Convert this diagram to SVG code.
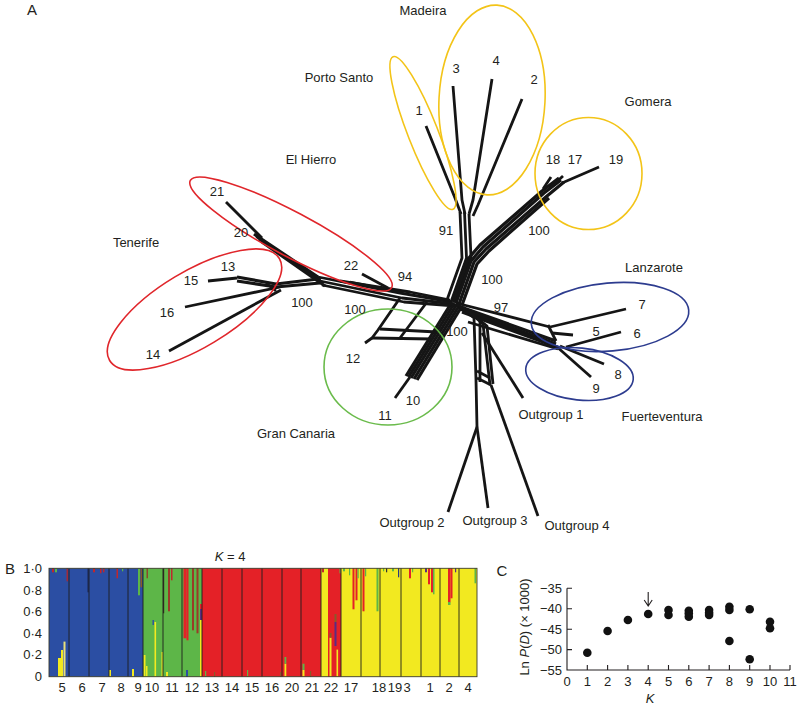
<svg xmlns="http://www.w3.org/2000/svg" width="798" height="708" viewBox="0 0 798 708">
<style>
text{font-family:"Liberation Sans",Arial,Helvetica,sans-serif;fill:#231f20;font-size:13px}
.m{text-anchor:middle}
.e{text-anchor:end}
.big{font-size:15px}
.ln{fill:none;stroke:#151515;stroke-width:2.8;stroke-linejoin:round}
.thk{fill:none;stroke:#151515;stroke-width:3.2;stroke-linejoin:round}
.ell{fill:none;stroke-width:1.6}
.yl{stroke:#f3c418}
.rd{stroke:#e0262b}
.gr{stroke:#6abb4b}
.bl{stroke:#2d3c8f}
.ax{fill:none;stroke:#231f20;stroke-width:1.1}
.dot{fill:#111}
</style>

<!-- Panel A -->
<text x="32" y="15" class="m big">A</text>

<g id="connectors">
  <!-- Madeira branches -->
  <path class="ln" d="M426,126 L455,198 L461,214"/>
  <path class="ln" d="M453,86 L462,200 L465,214"/>
  <path class="ln" d="M492,79 L473,200 L469,214"/>
  <path class="ln" d="M522,99 L478,205 L473,216"/>
  <!-- Madeira trunk -->
  <path class="ln" d="M460,212 L462,258 L447,300"/>
  <path class="ln" d="M464.5,212 L466.5,258 L451,302"/>
  <path class="ln" d="M469,214 L471,257 L455,303"/>
  <!-- Gomera bundle -->
  <path class="thk" d="M453,302 L468,259 L480,245 L542,191 L559,178"/>
  <path class="thk" d="M456,303 L471,261 L483,247 L544,193 L561,180"/>
  <path class="thk" d="M459,304 L474,262 L486,249 L547,196 L564,182"/>
  <path class="thk" d="M462,305 L477,264 L489,251 L549,198"/>
  <path class="ln" d="M551,177 L543,189"/>
  <path class="ln" d="M563,176 L550,188"/>
  <path class="ln" d="M599,167 L562,183"/>
  <!-- left bundle to El Hierro / Tenerife -->
  <path class="ln" d="M452,302 L400,293 L318,277"/>
  <path class="ln" d="M454,304 L402,298 L320,281"/>
  <path class="ln" d="M456,306 L404,302 L322,285"/>
  <path class="ln" d="M450,300 L410,292 L340,281"/>
  <!-- El Hierro bundle -->
  <path class="thk" d="M318,277 L254,234"/>
  <path class="thk" d="M320.5,280 L256.5,236.5"/>
  <path class="thk" d="M323,283 L259,239"/>
  <path class="thk" d="M325,286 L262,242"/>
  <path class="ln" d="M226,202 L262,238"/>
  <path class="ln" d="M362,274 L388,288"/>
  <path class="ln" d="M350,282 L400,292"/>
  <!-- Tenerife -->
  <path class="ln" d="M208,281 L237,278"/>
  <path class="thk" d="M237,277 L276,284 L318,279"/>
  <path class="thk" d="M237,281 L276,287 L320,283"/>
  <path class="ln" d="M185,307 L280,287"/>
  <path class="ln" d="M169,351 L281,290"/>
  <path class="ln" d="M266,283 L276,291"/>
  <!-- Gran Canaria -->
  <path class="thk" d="M452,302 L406,376"/>
  <path class="thk" d="M454.5,303 L408.5,377"/>
  <path class="thk" d="M457,304 L411,378"/>
  <path class="thk" d="M459.5,305 L414,379"/>
  <path class="thk" d="M462,306 L417,380"/>
  <path class="ln" d="M395,398 L410,377"/>
  <path class="ln" d="M400,298 L378,330 L372,338 L365,343"/>
  <path class="ln" d="M427,302 L400,338"/>
  <path class="ln" d="M380,329 L437,332"/>
  <path class="ln" d="M372,338 L432,339"/>
  <!-- Lanzarote / Fuerteventura -->
  <path class="ln" d="M456,303 L550,327"/>
  <path class="thk" d="M458,306 L556,341"/>
  <path class="thk" d="M460,309 L556,344"/>
  <path class="thk" d="M462,312 L557,347"/>
  <path class="ln" d="M468,322 L558,349"/>
  <path class="ln" d="M550,327 L626,309"/>
  <path class="ln" d="M552,333 L573,335"/>
  <path class="ln" d="M548,325 L556,341"/>
  <path class="ln" d="M566,347 L621,332"/>
  <path class="ln" d="M560,346 L604,364"/>
  <path class="ln" d="M556,346 L591,377"/>
  <!-- Outgroups -->
  <path class="ln" d="M456,304 L474,318 L476,380 L477,427"/>
  <path class="ln" d="M459,306 L480,320 L480,382"/>
  <path class="ln" d="M463,307 L483,324 L490,385"/>
  <path class="ln" d="M466,309 L487,326 L493,384"/>
  <path class="ln" d="M477,378 L491,385"/>
  <path class="ln" d="M477,371 L490,378"/>
  <path class="ln" d="M482,333 L523,398"/>
  <path class="ln" d="M491,385 L538,516"/>
  <path class="ln" d="M477,427 L448,512"/>
  <path class="ln" d="M477,427 L488,508"/>
</g>

<g id="ellipses">
  <ellipse class="ell yl" cx="423" cy="133" rx="82" ry="15" transform="rotate(68.6 423 133)"/>
  <ellipse class="ell yl" cx="492" cy="100" rx="53" ry="95" transform="rotate(3 492 100)"/>
  <ellipse class="ell yl" cx="588.5" cy="173.5" rx="53.5" ry="56"/>
  <ellipse class="ell rd" cx="291" cy="234" rx="114" ry="22" transform="rotate(28 291 234)"/>
  <ellipse class="ell rd" cx="194.5" cy="309.5" rx="99" ry="38" transform="rotate(-31 194.5 309.5)"/>
  <ellipse class="ell gr" cx="388" cy="367" rx="64" ry="58"/>
  <ellipse class="ell bl" cx="610" cy="317" rx="79" ry="34" transform="rotate(-5 610 317)"/>
  <ellipse class="ell bl" cx="579.5" cy="374" rx="54" ry="26" transform="rotate(6 579.5 374)"/>
</g>

<g id="region-labels">
  <text x="423" y="15" class="m">Madeira</text>
  <text x="339" y="82" class="m">Porto Santo</text>
  <text x="648" y="106" class="m">Gomera</text>
  <text x="311" y="164" class="m">El Hierro</text>
  <text x="136" y="247" class="m">Tenerife</text>
  <text x="654" y="272" class="m">Lanzarote</text>
  <text x="662" y="421" class="m">Fuerteventura</text>
  <text x="296" y="438" class="m">Gran Canaria</text>
  <text x="551" y="419" class="m">Outgroup 1</text>
  <text x="412" y="527" class="m">Outgroup 2</text>
  <text x="495" y="525" class="m">Outgroup 3</text>
  <text x="577" y="530" class="m">Outgroup 4</text>
</g>

<g id="leaf-labels">
  <text x="419" y="115" class="m">1</text>
  <text x="456" y="73" class="m">3</text>
  <text x="496" y="65" class="m">4</text>
  <text x="534" y="84" class="m">2</text>
  <text x="553" y="164" class="m">18</text>
  <text x="575" y="164" class="m">17</text>
  <text x="616" y="164" class="m">19</text>
  <text x="217" y="196" class="m">21</text>
  <text x="241" y="237" class="m">20</text>
  <text x="351" y="270" class="m">22</text>
  <text x="228" y="271" class="m">13</text>
  <text x="191" y="285" class="m">15</text>
  <text x="167" y="317" class="m">16</text>
  <text x="153" y="359" class="m">14</text>
  <text x="642" y="309" class="m">7</text>
  <text x="596" y="336" class="m">5</text>
  <text x="637" y="338" class="m">6</text>
  <text x="618" y="379" class="m">8</text>
  <text x="596" y="393" class="m">9</text>
  <text x="353" y="363" class="m">12</text>
  <text x="413" y="405" class="m">10</text>
  <text x="385" y="420" class="m">11</text>
</g>

<g id="support-values">
  <text x="446" y="235" class="m">91</text>
  <text x="539" y="235" class="m">100</text>
  <text x="405" y="281" class="m">94</text>
  <text x="492" y="284" class="m">100</text>
  <text x="302" y="307" class="m">100</text>
  <text x="355" y="314" class="m">100</text>
  <text x="501" y="312" class="m">97</text>
  <text x="457" y="336" class="m">100</text>
</g>

<!-- Panel B -->
<g id="panel-B">
  <text x="10" y="574" class="m big">B</text>
  <text x="230" y="561" class="m"><tspan font-style="italic">K</tspan> = 4</text>
  <g class="ylab">
    <text x="42" y="573" class="e">1·0</text>
    <text x="42" y="595" class="e">0·8</text>
    <text x="42" y="616" class="e">0·6</text>
    <text x="42" y="638" class="e">0·4</text>
    <text x="42" y="659" class="e">0·2</text>
    <text x="42" y="681" class="e">0</text>
  </g>
  <!-- base colours -->
  <rect x="49" y="568.3" width="94" height="108.4" fill="#2b4ea3"/>
  <rect x="143" y="568.3" width="59" height="108.4" fill="#5db648"/>
  <rect x="202" y="568.3" width="119" height="108.4" fill="#e42127"/>
  <rect x="321" y="568.3" width="7" height="108.4" fill="#f2e920"/>
  <rect x="328" y="568.3" width="13" height="108.4" fill="#e42127"/>
  <rect x="341" y="568.3" width="136" height="108.4" fill="#f2e920"/>
  <!-- admixture spikes -->
  <g id="spikes">
    <rect x="52" y="568.3" width="2" height="4" fill="#c0272d"/>
    <rect x="55" y="568.3" width="2" height="4" fill="#5db648"/>
    <rect x="66.5" y="568.3" width="1.6" height="13" fill="#a02a3a"/>
    <rect x="58" y="658" width="3" height="18.7" fill="#f2e920"/>
    <rect x="61" y="650" width="2" height="26.7" fill="#f2e920"/>
    <rect x="63.5" y="641.6" width="2" height="35" fill="#e9e07a"/>
    <rect x="87.5" y="568.3" width="1.2" height="24" fill="#1b2450"/>
    <rect x="93" y="568.3" width="2" height="4" fill="#c0272d"/>
    <rect x="100" y="568.3" width="1.5" height="5" fill="#c0272d"/>
    <rect x="103" y="568.3" width="1.5" height="4" fill="#c0272d"/>
    <rect x="116.5" y="568.3" width="1.5" height="10" fill="#c0272d"/>
    <rect x="109" y="670" width="2" height="6.7" fill="#f2e920"/>
    <rect x="122" y="568.3" width="1.2" height="3" fill="#5db648"/>
    <rect x="132" y="669" width="2" height="7.7" fill="#f2e920"/>
    <rect x="138" y="568.3" width="2" height="27" fill="#5db648"/>
    <rect x="140.5" y="568.3" width="1.6" height="19" fill="#8a5a2a"/>
    <rect x="146.5" y="568.3" width="1.5" height="10" fill="#8a4a2a"/>
    <rect x="143.5" y="655" width="2" height="21.7" fill="#f2e920"/>
    <rect x="146" y="666" width="1.5" height="10.7" fill="#f2e920"/>
    <rect x="154.5" y="622" width="1.6" height="54.7" fill="#f2e920"/>
    <rect x="152.5" y="620" width="1.4" height="5" fill="#2b4ea3"/>
    <rect x="163" y="568.3" width="1.2" height="45" fill="#3a3020"/>
    <rect x="161.5" y="652" width="1.5" height="24.7" fill="#f2e920"/>
    <rect x="168" y="568.3" width="2" height="43" fill="#9a3b28"/>
    <rect x="171" y="568.3" width="1.5" height="12" fill="#c0272d"/>
    <rect x="166" y="672" width="2" height="4.7" fill="#f2e920"/>
    <rect x="183.5" y="568.3" width="3" height="70" fill="#e42127"/>
    <rect x="186.5" y="568.3" width="2" height="72" fill="#e42127"/>
    <rect x="192" y="568.3" width="2" height="62" fill="#9a3b28"/>
    <rect x="196.5" y="568.3" width="2" height="65" fill="#9a3b28"/>
    <rect x="200" y="620" width="2" height="56.7" fill="#f2e920"/>
    <rect x="200" y="609" width="2" height="11" fill="#5a2d82"/>
    <rect x="200" y="604" width="2" height="5" fill="#e42127"/>
    <rect x="186" y="670" width="2" height="6.7" fill="#2b4ea3"/>
    <rect x="205" y="671" width="1.2" height="5.7" fill="#5db648"/>
    <rect x="214" y="672" width="1.2" height="4.7" fill="#8a5a2a"/>
    <rect x="247" y="670" width="1.2" height="6.7" fill="#5db648"/>
    <rect x="280" y="672" width="1.2" height="4.7" fill="#8a5a2a"/>
    <rect x="284.5" y="663.7" width="1.8" height="13" fill="#f2e920"/>
    <rect x="284.5" y="657" width="1.8" height="6.7" fill="#5db648"/>
    <rect x="302.5" y="670" width="2" height="6.7" fill="#f2e920"/>
    <rect x="302.5" y="663.7" width="2" height="6.3" fill="#5db648"/>
    <rect x="310" y="671" width="1.2" height="5.7" fill="#8a5a2a"/>
    <rect x="322" y="568.3" width="2" height="4" fill="#c0272d"/>
    <rect x="329.5" y="637.7" width="2" height="39" fill="#f2e920"/>
    <rect x="329.5" y="633" width="2" height="4.7" fill="#8a5a2a"/>
    <rect x="334.5" y="622" width="2" height="24" fill="#5a2d82"/>
    <rect x="334.5" y="614" width="2" height="8" fill="#8a5a2a"/>
    <rect x="336.5" y="649.6" width="1.6" height="27" fill="#f2e920"/>
    <rect x="339.5" y="568.3" width="1.2" height="5" fill="#5db648"/>
    <rect x="343" y="568.3" width="2" height="3" fill="#5db648"/>
    <rect x="349" y="568.3" width="1.2" height="7" fill="#5db648"/>
    <rect x="352.5" y="568.3" width="2" height="41" fill="#e42127"/>
    <rect x="355.5" y="568.3" width="2" height="32" fill="#e42127"/>
    <rect x="357.5" y="568.3" width="1.2" height="10" fill="#5db648"/>
    <rect x="362.5" y="568.3" width="2" height="43" fill="#e42127"/>
    <rect x="365" y="568.3" width="1.2" height="8" fill="#5db648"/>
    <rect x="376.5" y="568.3" width="2" height="43" fill="#5db648"/>
    <rect x="383" y="568.3" width="1.2" height="3" fill="#5db648"/>
    <rect x="386" y="568.3" width="1.2" height="4" fill="#333"/>
    <rect x="392" y="568.3" width="2" height="3" fill="#5db648"/>
    <rect x="398" y="568.3" width="1.2" height="9" fill="#2b3a80"/>
    <rect x="409" y="568.3" width="2" height="10" fill="#e42127"/>
    <rect x="412" y="568.3" width="1.2" height="4" fill="#5db648"/>
    <rect x="425" y="568.3" width="2" height="4" fill="#5a2d82"/>
    <rect x="428" y="568.3" width="2" height="16" fill="#e42127"/>
    <rect x="431" y="568.3" width="2" height="24" fill="#e42127"/>
    <rect x="433" y="568.3" width="1.5" height="26" fill="#5db648"/>
    <rect x="448" y="568.3" width="2.5" height="34" fill="#e42127"/>
    <rect x="450.5" y="568.3" width="2" height="30" fill="#e42127"/>
    <rect x="448" y="602" width="2.5" height="3" fill="#5db648"/>
    <rect x="455" y="568.3" width="1.2" height="4" fill="#5a2d82"/>
    <rect x="474.5" y="568.3" width="1.6" height="15" fill="#5db648"/>
  </g>
  <!-- population separators -->
  <g stroke="#1e1e1e" stroke-width="0.9">
    <line x1="69" y1="568.3" x2="69" y2="676.7"/>
    <line x1="89" y1="568.3" x2="89" y2="676.7"/>
    <line x1="109" y1="568.3" x2="109" y2="676.7"/>
    <line x1="128" y1="568.3" x2="128" y2="676.7"/>
    <line x1="143" y1="568.3" x2="143" y2="676.7"/>
    <line x1="163" y1="568.3" x2="163" y2="676.7"/>
    <line x1="182" y1="568.3" x2="182" y2="676.7"/>
    <line x1="202" y1="568.3" x2="202" y2="676.7"/>
    <line x1="222" y1="568.3" x2="222" y2="676.7"/>
    <line x1="242" y1="568.3" x2="242" y2="676.7"/>
    <line x1="262" y1="568.3" x2="262" y2="676.7"/>
    <line x1="282" y1="568.3" x2="282" y2="676.7"/>
    <line x1="301" y1="568.3" x2="301" y2="676.7"/>
    <line x1="321" y1="568.3" x2="321" y2="676.7"/>
    <line x1="341" y1="568.3" x2="341" y2="676.7"/>
    <line x1="361" y1="568.3" x2="361" y2="676.7"/>
    <line x1="380" y1="568.3" x2="380" y2="676.7"/>
    <line x1="401" y1="568.3" x2="401" y2="676.7"/>
    <line x1="421" y1="568.3" x2="421" y2="676.7"/>
    <line x1="440" y1="568.3" x2="440" y2="676.7"/>
    <line x1="459" y1="568.3" x2="459" y2="676.7"/>
  </g>
  <rect x="49" y="568.3" width="428" height="108.4" fill="none" stroke="#3a3a2a" stroke-width="0.9"/>
  <g>
    <text x="62" y="692" class="m">5</text>
    <text x="82" y="692" class="m">6</text>
    <text x="102" y="692" class="m">7</text>
    <text x="121" y="692" class="m">8</text>
    <text x="138" y="692" class="m">9</text>
    <text x="152" y="692" class="m">10</text>
    <text x="172" y="692" class="m">11</text>
    <text x="192" y="692" class="m">12</text>
    <text x="212" y="692" class="m">13</text>
    <text x="232" y="692" class="m">14</text>
    <text x="252" y="692" class="m">15</text>
    <text x="272" y="692" class="m">16</text>
    <text x="292" y="692" class="m">20</text>
    <text x="312" y="692" class="m">21</text>
    <text x="331" y="692" class="m">22</text>
    <text x="351" y="692" class="m">17</text>
    <text x="379" y="692" class="m">18</text>
    <text x="395" y="692" class="m">19</text>
    <text x="407" y="692" class="m">3</text>
    <text x="430" y="692" class="m">1</text>
    <text x="449" y="692" class="m">2</text>
    <text x="468" y="692" class="m">4</text>
  </g>
</g>

<!-- Panel C -->
<g id="panel-C">
  <text x="502" y="576" class="m big">C</text>
  <text transform="translate(529 627) rotate(-90)" class="m">Ln <tspan font-style="italic">P</tspan>(<tspan font-style="italic">D</tspan>) (× 1000)</text>
  <path class="ax" d="M567,588.3 L567,670 L790,670"/>
  <path class="ax" d="M567,588.3 h5 M567,608.7 h5 M567,629.2 h5 M567,649.6 h5"/>
  <path class="ax" d="M587.3,670 v-5 M607.6,670 v-5 M627.9,670 v-5 M648.2,670 v-5 M668.5,670 v-5 M688.8,670 v-5 M709.1,670 v-5 M729.4,670 v-5 M749.7,670 v-5 M770,670 v-5 M790,670 v-5"/>
  <text x="562" y="593" class="e">−35</text>
  <text x="562" y="613" class="e">−40</text>
  <text x="562" y="634" class="e">−45</text>
  <text x="562" y="654" class="e">−50</text>
  <text x="562" y="675" class="e">−55</text>
  <text x="567" y="686" class="m">0</text>
  <text x="587.3" y="686" class="m">1</text>
  <text x="607.6" y="686" class="m">2</text>
  <text x="627.9" y="686" class="m">3</text>
  <text x="648.2" y="686" class="m">4</text>
  <text x="668.5" y="686" class="m">5</text>
  <text x="688.8" y="686" class="m">6</text>
  <text x="709.1" y="686" class="m">7</text>
  <text x="729.4" y="686" class="m">8</text>
  <text x="749.7" y="686" class="m">9</text>
  <text x="770" y="686" class="m">10</text>
  <text x="790" y="686" class="m">11</text>
  <text x="650" y="703" class="m" font-style="italic" font-size="13">K</text>
  <path d="M648.2,592 V606 M644.2,600 L648.2,606 L652.2,600" fill="none" stroke="#231f20" stroke-width="1.1"/>
  <g class="dot">
    <circle cx="587.3" cy="652.7" r="4.3"/>
    <circle cx="607.6" cy="631" r="4.3"/>
    <circle cx="627.9" cy="620" r="4.3"/>
    <circle cx="648.2" cy="614" r="4.3"/>
    <circle cx="668.5" cy="610" r="4.3"/>
    <circle cx="668.5" cy="615" r="4.3"/>
    <circle cx="688.8" cy="610.7" r="4.3"/>
    <circle cx="688.8" cy="613.5" r="4.3"/>
    <circle cx="688.8" cy="616.7" r="4.3"/>
    <circle cx="709.1" cy="610" r="4.3"/>
    <circle cx="709.1" cy="612.7" r="4.3"/>
    <circle cx="709.1" cy="615" r="4.3"/>
    <circle cx="729.4" cy="606.7" r="4.3"/>
    <circle cx="729.4" cy="610" r="4.3"/>
    <circle cx="729.4" cy="641" r="4.3"/>
    <circle cx="749.7" cy="609.3" r="4.3"/>
    <circle cx="749.7" cy="659.3" r="4.3"/>
    <circle cx="770" cy="621.7" r="4.3"/>
    <circle cx="770" cy="628.3" r="4.3"/>
  </g>
</g>
</svg>
